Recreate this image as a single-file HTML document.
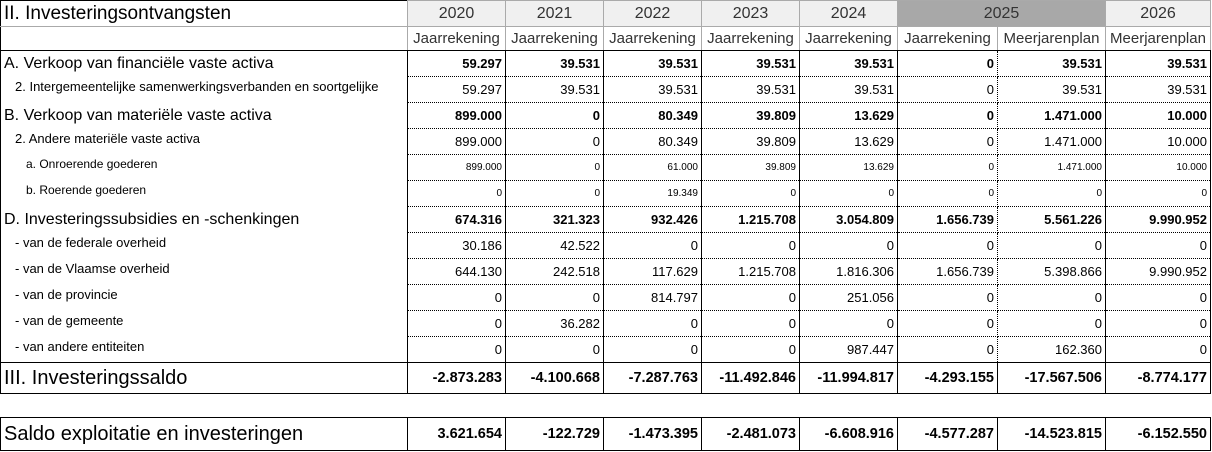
<!DOCTYPE html>
<html><head><meta charset="utf-8"><style>
body{margin:0;background:#fff;width:1212px;height:452px;overflow:hidden;font-family:"Liberation Sans",Arial,sans-serif;color:#000}
table{border-collapse:collapse;table-layout:fixed;position:absolute;left:0}
td{padding:0 3px;white-space:nowrap;overflow:hidden;font-size:13px;text-align:right}
td.l{text-align:left;border-left:1px solid #000}
td.d{border-left:1px solid #000;border-right:1px solid #000;border-bottom:1px dotted #000}
td.dm{border-left:1px dotted #000}
td.dj{border-right:1px dotted #000}
tr.h td{background:#f0f0f0;text-align:center;font-size:16px;color:#333;border:1px solid #aaa}
tr.h td.y25{background:#a8a8a8}
tr.s td{text-align:center;font-size:15px;color:#333;padding:0 1px;border-left:1px solid #aaa;border-right:1px solid #aaa;border-bottom:1px solid #000}
tr.h td.l,tr.s td.l{background:#fff;text-align:left;font-size:19px;color:#000;border-left:1px solid #000;border-top:1px solid #000}
tr.s td.l{border-top:none}
.big{font-size:16px}
b{font-weight:bold}
.sm td{font-size:10px}
.sm td.l{font-size:12px}
tr.tot td{border-top:1px solid #000;border-bottom:1px solid #000;font-weight:bold;font-size:14.5px}
tr.tot td.l{font-weight:normal;font-size:20px}
</style></head><body>
<table style="top:0">
<colgroup><col style="width:407px"><col style="width:98px"><col style="width:98px"><col style="width:98px"><col style="width:98px"><col style="width:98px"><col style="width:100px"><col style="width:108px"><col style="width:105px"></colgroup>
<tr class="h" style="height:26px"><td class="l">II. Investeringsontvangsten</td><td>2020</td><td>2021</td><td>2022</td><td>2023</td><td>2024</td><td class="y25" colspan="2">2025</td><td>2026</td></tr>
<tr class="s" style="height:24px"><td class="l"></td><td>Jaarrekening</td><td>Jaarrekening</td><td>Jaarrekening</td><td>Jaarrekening</td><td>Jaarrekening</td><td>Jaarrekening</td><td>Meerjarenplan</td><td>Meerjarenplan</td></tr>
<tr style="height:26px;font-weight:bold"><td class="l big" style="font-weight:normal">A. Verkoop van financiële vaste activa</td><td class="d"><b>59.297</b></td><td class="d"><b>39.531</b></td><td class="d"><b>39.531</b></td><td class="d"><b>39.531</b></td><td class="d"><b>39.531</b></td><td class="d dj"><b>0</b></td><td class="d dm"><b>39.531</b></td><td class="d"><b>39.531</b></td></tr>
<tr style="height:26px"><td class="l" style="font-size:13px;padding-left:14px;vertical-align:top;padding-top:2px">2. Intergemeentelijke samenwerkingsverbanden en soortgelijke</td><td class="d">59.297</td><td class="d">39.531</td><td class="d">39.531</td><td class="d">39.531</td><td class="d">39.531</td><td class="d dj">0</td><td class="d dm">39.531</td><td class="d">39.531</td></tr>
<tr style="height:26px"><td class="l big">B. Verkoop van materiële vaste activa</td><td class="d"><b>899.000</b></td><td class="d"><b>0</b></td><td class="d"><b>80.349</b></td><td class="d"><b>39.809</b></td><td class="d"><b>13.629</b></td><td class="d dj"><b>0</b></td><td class="d dm"><b>1.471.000</b></td><td class="d"><b>10.000</b></td></tr>
<tr style="height:26px"><td class="l" style="padding-left:14px;vertical-align:top;padding-top:2px">2. Andere materiële vaste activa</td><td class="d">899.000</td><td class="d">0</td><td class="d">80.349</td><td class="d">39.809</td><td class="d">13.629</td><td class="d dj">0</td><td class="d dm">1.471.000</td><td class="d">10.000</td></tr>
<tr class="sm" style="height:26px"><td class="l" style="padding-left:25px;vertical-align:top;padding-top:2px">a. Onroerende goederen</td><td class="d">899.000</td><td class="d">0</td><td class="d">61.000</td><td class="d">39.809</td><td class="d">13.629</td><td class="d dj">0</td><td class="d dm">1.471.000</td><td class="d">10.000</td></tr>
<tr class="sm" style="height:26px"><td class="l" style="padding-left:25px;vertical-align:top;padding-top:2px">b. Roerende goederen</td><td class="d">0</td><td class="d">0</td><td class="d">19.349</td><td class="d">0</td><td class="d">0</td><td class="d dj">0</td><td class="d dm">0</td><td class="d">0</td></tr>
<tr style="height:26px"><td class="l big">D. Investeringssubsidies en -schenkingen</td><td class="d"><b>674.316</b></td><td class="d"><b>321.323</b></td><td class="d"><b>932.426</b></td><td class="d"><b>1.215.708</b></td><td class="d"><b>3.054.809</b></td><td class="d dj"><b>1.656.739</b></td><td class="d dm"><b>5.561.226</b></td><td class="d"><b>9.990.952</b></td></tr>
<tr style="height:26px"><td class="l" style="padding-left:14px;vertical-align:top;padding-top:2px">- van de federale overheid</td><td class="d">30.186</td><td class="d">42.522</td><td class="d">0</td><td class="d">0</td><td class="d">0</td><td class="d dj">0</td><td class="d dm">0</td><td class="d">0</td></tr>
<tr style="height:26px"><td class="l" style="padding-left:14px;vertical-align:top;padding-top:2px">- van de Vlaamse overheid</td><td class="d">644.130</td><td class="d">242.518</td><td class="d">117.629</td><td class="d">1.215.708</td><td class="d">1.816.306</td><td class="d dj">1.656.739</td><td class="d dm">5.398.866</td><td class="d">9.990.952</td></tr>
<tr style="height:26px"><td class="l" style="padding-left:14px;vertical-align:top;padding-top:2px">- van de provincie</td><td class="d">0</td><td class="d">0</td><td class="d">814.797</td><td class="d">0</td><td class="d">251.056</td><td class="d dj">0</td><td class="d dm">0</td><td class="d">0</td></tr>
<tr style="height:26px"><td class="l" style="padding-left:14px;vertical-align:top;padding-top:2px">- van de gemeente</td><td class="d">0</td><td class="d">36.282</td><td class="d">0</td><td class="d">0</td><td class="d">0</td><td class="d dj">0</td><td class="d dm">0</td><td class="d">0</td></tr>
<tr style="height:26px"><td class="l" style="padding-left:14px;vertical-align:top;padding-top:2px">- van andere entiteiten</td><td class="d">0</td><td class="d">0</td><td class="d">0</td><td class="d">0</td><td class="d">987.447</td><td class="d dj">0</td><td class="d dm">162.360</td><td class="d">0</td></tr>
<tr class="tot" style="height:31px"><td class="l">III. Investeringssaldo</td><td class="d">-2.873.283</td><td class="d">-4.100.668</td><td class="d">-7.287.763</td><td class="d">-11.492.846</td><td class="d">-11.994.817</td><td class="d">-4.293.155</td><td class="d">-17.567.506</td><td class="d">-8.774.177</td></tr>
</table>
<table style="top:417px">
<colgroup><col style="width:407px"><col style="width:98px"><col style="width:98px"><col style="width:98px"><col style="width:98px"><col style="width:98px"><col style="width:100px"><col style="width:108px"><col style="width:105px"></colgroup>
<tr class="tot" style="height:33px"><td class="l">Saldo exploitatie en investeringen</td><td class="d">3.621.654</td><td class="d">-122.729</td><td class="d">-1.473.395</td><td class="d">-2.481.073</td><td class="d">-6.608.916</td><td class="d">-4.577.287</td><td class="d">-14.523.815</td><td class="d">-6.152.550</td></tr>
</table>
</body></html>
